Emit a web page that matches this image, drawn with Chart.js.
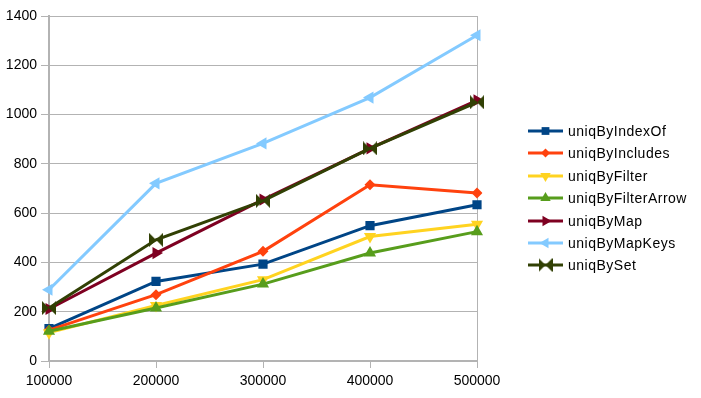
<!DOCTYPE html>
<html lang="en">
<head>
    <meta charset="UTF-8">
    <title>uniq benchmark</title>
    <script src="https://cdn.jsdelivr.net/npm/chart.js@4"></script>
    <style>
        body { margin: 0; background: #fff; }
        #wrap { width: 701px; height: 398px; }
    </style>
</head>
<body>
    <div id="wrap"><canvas id="chart" width="701" height="398"></canvas></div>

    <script>
        const sizes = ['100000', '200000', '300000', '400000', '500000'];
        const seriesNames = ['uniqByIndexOf', 'uniqByIncludes', 'uniqByFilter', 'uniqByFilterArrow', 'uniqByMap', 'uniqByMapKeys', 'uniqBySet'];
        const uniqByIndexOf = [131, 323, 393, 549, 634];
        const uniqByIncludes = [125, 269, 445, 715, 682];
        const uniqByFilter = [115, 225, 330, 505, 555];
        const uniqByFilterArrow = [121, 215, 312, 438, 525];
        const uniqByMap = [211, 438, 655, 863, 1058];
        const uniqByMapKeys = [289, 721, 883, 1069, 1322];
        const uniqBySet = [215, 492, 650, 863, 1050];

        const colors = ['#004586', '#ff420e', '#ffd320', '#579d1c', '#7e0021', '#83caff', '#314004'];
        const gridGray = '#b3b3b3';
        const fontFamily = '"Liberation Sans", Arial, sans-serif';

        // bowtie marker for uniqBySet (two triangles pointing inward)
        function bowtie(color, r) {
            const c = document.createElement('canvas');
            c.width = r * 2; c.height = r * 2;
            const g = c.getContext('2d');
            g.fillStyle = color;
            g.beginPath();
            g.moveTo(0, 0); g.lineTo(r, r); g.lineTo(0, r * 2); g.closePath();
            g.moveTo(r * 2, 0); g.lineTo(r, r); g.lineTo(r * 2, r * 2); g.closePath();
            g.fill();
            return c;
        }

        const markers = [
            { style: 'rect', rot: 0, radius: 6.5 },
            { style: 'rectRot', rot: 0, radius: 5.5 },
            { style: 'triangle', rot: 180, radius: 7 },
            { style: 'triangle', rot: 0, radius: 7 },
            { style: 'triangle', rot: 90, radius: 7 },
            { style: 'triangle', rot: -90, radius: 7 },
            { style: bowtie(colors[6], 7), rot: 0, radius: 7 }
        ];

        const values = [uniqByIndexOf, uniqByIncludes, uniqByFilter, uniqByFilterArrow, uniqByMap, uniqByMapKeys, uniqBySet];

        const datasets = seriesNames.map((name, i) => ({
            label: name,
            data: values[i],
            borderColor: colors[i],
            backgroundColor: colors[i],
            borderWidth: 3,
            pointStyle: markers[i].style,
            rotation: markers[i].rot,
            pointRadius: markers[i].radius,
            pointBorderWidth: 0,
            pointBackgroundColor: colors[i],
            tension: 0,
            order: seriesNames.length - i  // later series drawn on top
        }));

        const chart = new Chart(document.getElementById('chart').getContext('2d'), {
            type: 'line',
            data: { labels: sizes, datasets: datasets },
            options: {
                responsive: false,
                animation: false,
                layout: { padding: { top: 16, right: 224, bottom: 0, left: 0 } },
                plugins: { legend: { display: false }, tooltip: { enabled: false } },
                scales: {
                    x: {
                        offset: false,
                        grid: {
                            color: c => c.index === sizes.length - 1 ? gridGray : 'rgba(0,0,0,0)',
                            tickColor: gridGray,
                            tickLength: 7,
                            lineWidth: 1
                        },
                        border: { color: gridGray, width: 2 },
                        ticks: {
                            color: '#000',
                            font: { family: fontFamily, size: 14 },
                            padding: 5,
                            maxRotation: 0,
                            autoSkip: false
                        },
                        afterFit: s => { s.height = 37; }
                    },
                    y: {
                        min: 0,
                        max: 1400,
                        grid: { color: gridGray, tickColor: gridGray, tickLength: 8, lineWidth: 1 },
                        border: { color: gridGray, width: 2 },
                        ticks: {
                            stepSize: 200,
                            color: '#000',
                            font: { family: fontFamily, size: 14 },
                            padding: 4,
                            callback: v => String(v)
                        },
                        afterFit: s => { s.width = 49; }
                    }
                }
            },
            plugins: [{
                id: 'sideLegend',
                beforeDraw(chart) {
                    const ctx = chart.ctx;
                    ctx.save();
                    ctx.fillStyle = '#fff';
                    ctx.fillRect(0, 0, chart.width, chart.height);
                    ctx.restore();
                },
                // legend entries: line segment with marker, then the name
                afterDraw(chart) {
                    const ctx = chart.ctx;
                    const x0 = 528, x1 = 563, tx = 568;
                    const top = 131, step = 22.4;
                    ctx.save();
                    ctx.font = '14px ' + fontFamily;
                    ctx.letterSpacing = '0.5px';
                    ctx.textBaseline = 'middle';
                    chart.data.datasets.forEach((ds, i) => {
                        const y = Math.round(top + i * step);
                        ctx.strokeStyle = ds.borderColor;
                        ctx.lineWidth = 3;
                        ctx.beginPath();
                        ctx.moveTo(x0, y);
                        ctx.lineTo(x1, y);
                        ctx.stroke();
                        ctx.fillStyle = ds.borderColor;
                        Chart.helpers.drawPoint(ctx, {
                            pointStyle: ds.pointStyle,
                            rotation: ds.rotation,
                            radius: ds.pointRadius - 1,
                            borderWidth: 0
                        }, (x0 + x1) / 2, y);
                        ctx.fillStyle = '#000';
                        ctx.fillText(ds.label, tx, y + 1);
                    });
                    ctx.restore();
                }
            }]
        });
    </script>
</body>
</html>
